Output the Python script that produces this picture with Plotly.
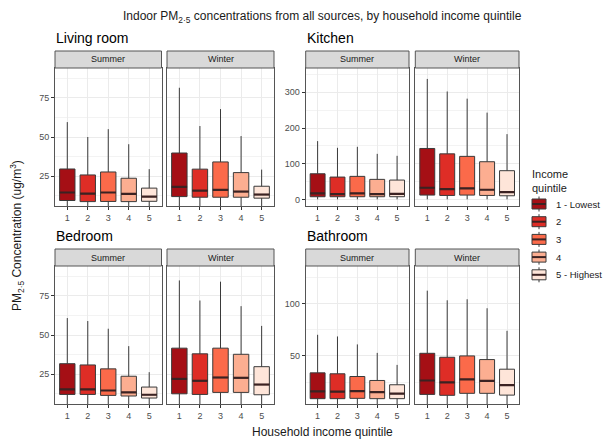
import plotly.graph_objects as go

# ---------------- data ----------------
quintiles = [1, 2, 3, 4, 5]
quintile_labels = ["1 - Lowest", "2", "3", "4", "5 - Highest"]
colors = ["#A50F15", "#DE2D26", "#FB6A4A", "#FCAE91", "#FEE5D9"]
rooms = ["Living room", "Kitchen", "Bedroom", "Bathroom"]
seasons = ["Summer", "Winter"]

# Living room
living_summer_lower = [2, 2, 2, 2, 2]
living_summer_q1 = [9.5, 8.8, 8.9, 8.8, 9.0]
living_summer_median = [14.6, 13.9, 14.6, 13.7, 12.0]
living_summer_q3 = [29.6, 25.8, 27.7, 23.7, 17.4]
living_summer_upper = [59.5, 50.0, 55.0, 45.4, 29.5]

living_winter_lower = [3, 3, 3, 3, 3]
living_winter_q1 = [12.0, 11.6, 11.6, 11.6, 11.0]
living_winter_median = [18.2, 15.8, 16.3, 15.2, 13.3]
living_winter_q3 = [39.8, 29.5, 34.1, 27.3, 18.6]
living_winter_upper = [81.4, 57.0, 67.8, 50.6, 29.2]

# Kitchen
kitchen_summer_lower = [1, 1, 1, 1, 1]
kitchen_summer_q1 = [8.4, 8.4, 8.4, 8.4, 8.4]
kitchen_summer_median = [17.8, 15.9, 17.8, 15.9, 16.5]
kitchen_summer_q3 = [72.4, 63.2, 65.2, 56.8, 54.9]
kitchen_summer_upper = [163.5, 144.8, 147.6, 128.0, 122.5]

kitchen_winter_lower = [1, 1, 1, 1, 1]
kitchen_winter_q1 = [13.0, 12.0, 13.0, 12.0, 11.0]
kitchen_winter_median = [33.4, 29.8, 31.7, 27.9, 21.4]
kitchen_winter_q3 = [143.0, 128.0, 121.0, 106.0, 81.0]
kitchen_winter_upper = [337.0, 302.0, 282.0, 243.0, 183.0]

# Bedroom
bedroom_summer_lower = [3, 3, 3, 3, 3]
bedroom_summer_q1 = [12.1, 12.1, 11.5, 11.1, 9.8]
bedroom_summer_median = [15.3, 15.3, 14.6, 13.4, 11.9]
bedroom_summer_q3 = [31.7, 30.9, 28.4, 23.7, 16.8]
bedroom_summer_upper = [60.8, 58.9, 54.0, 42.9, 26.3]

bedroom_winter_lower = [3, 3, 3, 3, 3]
bedroom_winter_q1 = [12.5, 12.1, 13.4, 13.4, 11.9]
bedroom_winter_median = [22.0, 20.8, 22.9, 22.7, 18.4]
bedroom_winter_q3 = [41.6, 38.0, 41.6, 37.7, 29.8]
bedroom_winter_upper = [84.8, 72.0, 84.0, 68.4, 55.8]

# Bathroom
bathroom_summer_lower = [2, 2, 2, 2, 2]
bathroom_summer_q1 = [9.1, 9.1, 9.4, 9.1, 9.1]
bathroom_summer_median = [16.0, 15.8, 16.4, 15.4, 13.9]
bathroom_summer_q3 = [33.8, 32.9, 30.3, 26.5, 22.4]
bathroom_summer_upper = [70.2, 68.6, 61.0, 52.9, 41.4]

bathroom_winter_lower = [3, 3, 3, 3, 3]
bathroom_winter_q1 = [13.2, 12.3, 14.2, 14.2, 12.5]
bathroom_winter_median = [26.5, 24.6, 27.5, 26.2, 22.1]
bathroom_winter_q3 = [52.5, 48.7, 50.0, 46.5, 37.3]
bathroom_winter_upper = [112.4, 103.2, 104.2, 95.6, 74.0]

stats = {
    ("Living room", "Summer"): (living_summer_lower, living_summer_q1, living_summer_median, living_summer_q3, living_summer_upper),
    ("Living room", "Winter"): (living_winter_lower, living_winter_q1, living_winter_median, living_winter_q3, living_winter_upper),
    ("Kitchen", "Summer"): (kitchen_summer_lower, kitchen_summer_q1, kitchen_summer_median, kitchen_summer_q3, kitchen_summer_upper),
    ("Kitchen", "Winter"): (kitchen_winter_lower, kitchen_winter_q1, kitchen_winter_median, kitchen_winter_q3, kitchen_winter_upper),
    ("Bedroom", "Summer"): (bedroom_summer_lower, bedroom_summer_q1, bedroom_summer_median, bedroom_summer_q3, bedroom_summer_upper),
    ("Bedroom", "Winter"): (bedroom_winter_lower, bedroom_winter_q1, bedroom_winter_median, bedroom_winter_q3, bedroom_winter_upper),
    ("Bathroom", "Summer"): (bathroom_summer_lower, bathroom_summer_q1, bathroom_summer_median, bathroom_summer_q3, bathroom_summer_upper),
    ("Bathroom", "Winter"): (bathroom_winter_lower, bathroom_winter_q1, bathroom_winter_median, bathroom_winter_q3, bathroom_winter_upper),
}

# axis settings per room
y_ranges = {"Living room": [6, 94], "Kitchen": [-17.5, 367.5], "Bedroom": [6, 94], "Bathroom": [4, 136]}
y_major = {"Living room": [25, 50, 75], "Kitchen": [0, 100, 200, 300], "Bedroom": [25, 50, 75], "Bathroom": [50, 100]}
y_minor = {"Living room": [12.5, 37.5, 62.5, 87.5], "Kitchen": [50, 150, 250, 350],
           "Bedroom": [12.5, 37.5, 62.5, 87.5], "Bathroom": [25, 75, 125]}

# ---------------- layout geometry (pixels) ----------------
W, H = 603, 441
def fx(p): return p / W
def fy(p): return 1 - p / H

col_x = {0: [(55, 161.5), (167, 274)], 1: [(305.7, 409), (415.3, 519)]}
row_y = {0: (68, 206), 1: (266, 404)}
strip_h = 17
room_pos = {"Living room": (0, 0), "Kitchen": (0, 1), "Bedroom": (1, 0), "Bathroom": (1, 1)}

GRID = "#EBEBEB"
BORDER = "#555555"
BOXLINE = "#3A3A3A"
MEDLINE = "#3B2222"
FONT = "Liberation Sans, Arial, sans-serif"

fig = go.Figure()
layout = dict(
    width=W, height=H, margin=dict(l=0, r=0, t=0, b=0),
    paper_bgcolor="white", plot_bgcolor="white",
    font=dict(family=FONT, color="#1A1A1A"),
    showlegend=False,
)
shapes = []
annotations = []

k = 0
for room in rooms:
    r, c = room_pos[room]
    y0, y1 = row_y[r]
    for j, season in enumerate(seasons):
        k += 1
        n = "" if k == 1 else str(k)
        x0, x1 = col_x[c][j]
        layout["xaxis" + n] = dict(
            domain=[fx(x0), fx(x1)], anchor="y" + n, range=[0.4, 5.6],
            tickvals=quintiles, ticktext=[str(q) for q in quintiles],
            showgrid=True, gridcolor=GRID, gridwidth=1, zeroline=False,
            showline=True, mirror=True, linecolor=BORDER, linewidth=1,
            ticks="outside", ticklen=3, tickcolor="#333333",
            tickfont=dict(size=9, color="#4D4D4D"),
        )
        ya = dict(
            domain=[fy(y1), fy(y0)], anchor="x" + n, range=y_ranges[room],
            tickvals=y_major[room], showgrid=True, gridcolor=GRID, gridwidth=1,
            minor=dict(tickvals=y_minor[room], showgrid=True, gridcolor="#F3F3F3", gridwidth=0.6, ticks=""),
            zeroline=False, showline=True, mirror=True, linecolor=BORDER, linewidth=1,
            tickfont=dict(size=9, color="#4D4D4D"),
        )
        if j == 0:
            ya.update(ticks="outside", ticklen=3, tickcolor="#333333", showticklabels=True)
        else:
            ya.update(ticks="", showticklabels=False, matches="y" + ("" if k - 1 == 1 else str(k - 1)))
        layout["yaxis" + n] = ya

        # strip
        shapes.append(dict(type="rect", xref="paper", yref="paper",
                           x0=fx(x0), x1=fx(x1), y0=fy(y0), y1=fy(y0 - strip_h),
                           fillcolor="#D9D9D9", line=dict(color=BORDER, width=1), layer="above"))
        annotations.append(dict(text=season, xref="paper", yref="paper",
                                x=(fx(x0) + fx(x1)) / 2, y=fy(y0 - strip_h / 2),
                                showarrow=False, font=dict(size=9, color="#1A1A1A"),
                                xanchor="center", yanchor="middle"))
        if j == 0:
            annotations.append(dict(text=room, xref="paper", yref="paper",
                                    x=fx(x0 - 1), y=fy(y0 - strip_h - 13),
                                    showarrow=False, font=dict(size=14, color="#000000"),
                                    xanchor="left", yanchor="middle"))

        lower, q1, med, q3, upper = stats[(room, season)]
        for i, q in enumerate(quintiles):
            fig.add_trace(go.Box(
                x=[q], q1=[q1[i]], median=[med[i]], q3=[q3[i]],
                lowerfence=[lower[i]], upperfence=[upper[i]],
                xaxis="x" + n, yaxis="y" + n, width=0.75, whiskerwidth=0,
                fillcolor=colors[i], line=dict(color=BOXLINE, width=1),
                name=quintile_labels[i], boxpoints=False, hoverinfo="skip",
            ))
            fig.add_trace(go.Scatter(
                x=[q - 0.375, q + 0.375], y=[med[i], med[i]], mode="lines",
                line=dict(color=MEDLINE, width=2.2), xaxis="x" + n, yaxis="y" + n,
                hoverinfo="skip",
            ))

# ---------------- legend (drawn as keys) ----------------
leg_x0, leg_x1 = 532, 546
leg_y_first, leg_dy = 204, 17.7
annotations.append(dict(text="Income<br>quintile", xref="paper", yref="paper",
                        x=fx(530), y=fy(166), showarrow=False, align="left",
                        font=dict(size=11, color="#1A1A1A"), xanchor="left", yanchor="top"))
for i, lab in enumerate(quintile_labels):
    cy = leg_y_first + i * leg_dy
    cxm = (leg_x0 + leg_x1) / 2
    shapes.append(dict(type="line", xref="paper", yref="paper",
                       x0=fx(cxm), x1=fx(cxm), y0=fy(cy - 7.5), y1=fy(cy + 7.5),
                       line=dict(color=BOXLINE, width=1)))
    shapes.append(dict(type="rect", xref="paper", yref="paper",
                       x0=fx(leg_x0), x1=fx(leg_x1), y0=fy(cy - 5), y1=fy(cy + 5),
                       fillcolor=colors[i], line=dict(color=BOXLINE, width=1)))
    shapes.append(dict(type="line", xref="paper", yref="paper",
                       x0=fx(leg_x0), x1=fx(leg_x1), y0=fy(cy), y1=fy(cy),
                       line=dict(color=MEDLINE, width=2)))
    annotations.append(dict(text=lab, xref="paper", yref="paper",
                            x=fx(554), y=fy(cy), showarrow=False,
                            font=dict(size=9.5, color="#1A1A1A"), xanchor="left", yanchor="middle"))

annotations.append(dict(text="Indoor PM<sub>2·5</sub> concentrations from all sources, by household income quintile",
                        xref="paper", yref="paper", x=fx(322), y=fy(17), showarrow=False,
                        font=dict(size=12, color="#1A1A1A"), xanchor="center", yanchor="middle"))
annotations.append(dict(text="Household income quintile", xref="paper", yref="paper",
                        x=fx(322), y=fy(432), showarrow=False,
                        font=dict(size=12, color="#1A1A1A"), xanchor="center", yanchor="middle"))
annotations.append(dict(text="PM<sub>2·5</sub> Concentration (ug/m<sup>3</sup>)", xref="paper", yref="paper",
                        x=fx(17), y=fy(236), showarrow=False, textangle=-90,
                        font=dict(size=12, color="#1A1A1A"), xanchor="center", yanchor="middle"))

layout["shapes"] = shapes
layout["annotations"] = annotations
fig.update_layout(**layout)
fig.write_html("out.html", config={"displayModeBar": False},
               post_script="document.body.style.margin='0';document.body.style.overflow='hidden';")
